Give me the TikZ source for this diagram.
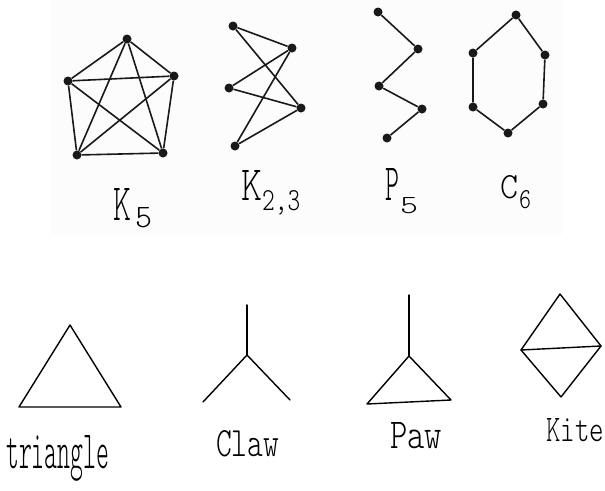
\documentclass[tikz,border=0pt]{standalone}
\usepackage{fontspec}
\usepackage{graphicx}
\newcommand{\hwfont}{\fontfamily{lmtt}\fontseries{l}\selectfont}
\newcommand{\hwtext}[3]{\resizebox{#1}{#2}{\hwfont #3}}
\begin{document}
\begin{tikzpicture}[x=1pt,y=-1pt,
  vtx/.style={circle,fill=black!90,inner sep=0pt,minimum size=9pt},
  edge/.style={line width=1.6pt,draw=black!90},
  sedge/.style={line width=1.4pt,draw=black,line join=round,line cap=round},
  lbl/.style={inner sep=0pt,anchor=base west}]
\useasboundingbox (0,0) rectangle (605,490);
\fill[white] (0,0) rectangle (605,490);
\fill[black!1] (50,0) rectangle (562,235);
% K5
\node[vtx] (a1) at (127,39) {};
\node[vtx] (a2) at (68,81) {};
\node[vtx] (a3) at (174,76) {};
\node[vtx] (a4) at (77,155) {};
\node[vtx] (a5) at (163,153) {};
\foreach \u/\v in {a1/a2,a1/a3,a1/a4,a1/a5,a2/a3,a2/a4,a2/a5,a3/a4,a3/a5,a4/a5}
  \draw[edge] (\u) -- (\v);
% K2,3
\node[vtx] (b1) at (233,26) {};
\node[vtx] (b2) at (229,88) {};
\node[vtx] (b3) at (235,146) {};
\node[vtx] (b4) at (292,48) {};
\node[vtx] (b5) at (301,108) {};
\foreach \u in {b1,b2,b3}
  \foreach \v in {b4,b5}
    \draw[edge] (\u) -- (\v);
% P5
\node[vtx] (c1) at (378,12) {};
\node[vtx] (c2) at (418,49) {};
\node[vtx] (c3) at (379,86) {};
\node[vtx] (c4) at (422,109) {};
\node[vtx] (c5) at (387,138) {};
\draw[edge] (c1) -- (c2) -- (c3) -- (c4) -- (c5);
% C6
\node[vtx] (d1) at (516,15) {};
\node[vtx] (d2) at (545,55) {};
\node[vtx] (d3) at (543,104) {};
\node[vtx] (d4) at (508,133) {};
\node[vtx] (d5) at (473,107) {};
\node[vtx] (d6) at (473,53) {};
\draw[edge] (d1) -- (d2) -- (d3) -- (d4) -- (d5) -- (d6) -- (d1);
% top labels
\node[lbl] (lk5) at (113,220) {\hwtext{18pt}{32pt}{K}};
\node[lbl] (lk5s) at (135,227) {\hwtext{17pt}{20pt}{5}};
\node[lbl] (lk23) at (241,200) {\hwtext{21pt}{30pt}{K}};
\node[lbl] (lk23s) at (262,210) {\hwtext{38pt}{20pt}{2,3}};
\node[lbl] (lp5) at (385,200) {\hwtext{14pt}{32pt}{P}};
\node[lbl] (lp5s) at (400,213) {\hwtext{18pt}{16pt}{5}};
\node[lbl] (lc6) at (500,198) {\hwtext{18pt}{23pt}{C}};
\node[lbl] (lc6s) at (519,208) {\hwtext{12pt}{18pt}{6}};
% triangle
\coordinate (t1) at (70,325);
\coordinate (t2) at (19,407);
\coordinate (t3) at (121,407);
\draw[sedge] (t1) -- (t2) -- (t3) -- cycle;
% claw
\coordinate (w0) at (247,355);
\coordinate (w1) at (247,305);
\coordinate (w2) at (203,402);
\coordinate (w3) at (290,400);
\draw[sedge] (w0) -- (w1);
\draw[sedge] (w0) -- (w2);
\draw[sedge] (w0) -- (w3);
% paw
\coordinate (p0) at (409,295);
\coordinate (p1) at (409,356);
\coordinate (p2) at (367,404);
\coordinate (p3) at (451,400);
\draw[sedge] (p0) -- (p1);
\draw[sedge] (p1) -- (p2) -- (p3) -- cycle;
% kite
\coordinate (k1) at (560,294);
\coordinate (k2) at (521,350);
\coordinate (k3) at (601,346);
\coordinate (k4) at (561,397);
\draw[sedge] (k1) -- (k2) -- (k4) -- (k3) -- cycle;
\draw[sedge] (k2) -- (k3);
% bottom labels
\node[lbl] (ltri) at (6,468) {\hwtext{103pt}{33pt}{triangle}};
\node[lbl] (lclaw) at (216,456) {\hwtext{63pt}{26pt}{Claw}};
\node[lbl] (lpaw) at (390,448) {\hwtext{52pt}{26pt}{Paw}};
\node[lbl] (lkite) at (546,441) {\hwtext{58pt}{23pt}{Kite}};
\end{tikzpicture}
\end{document}
